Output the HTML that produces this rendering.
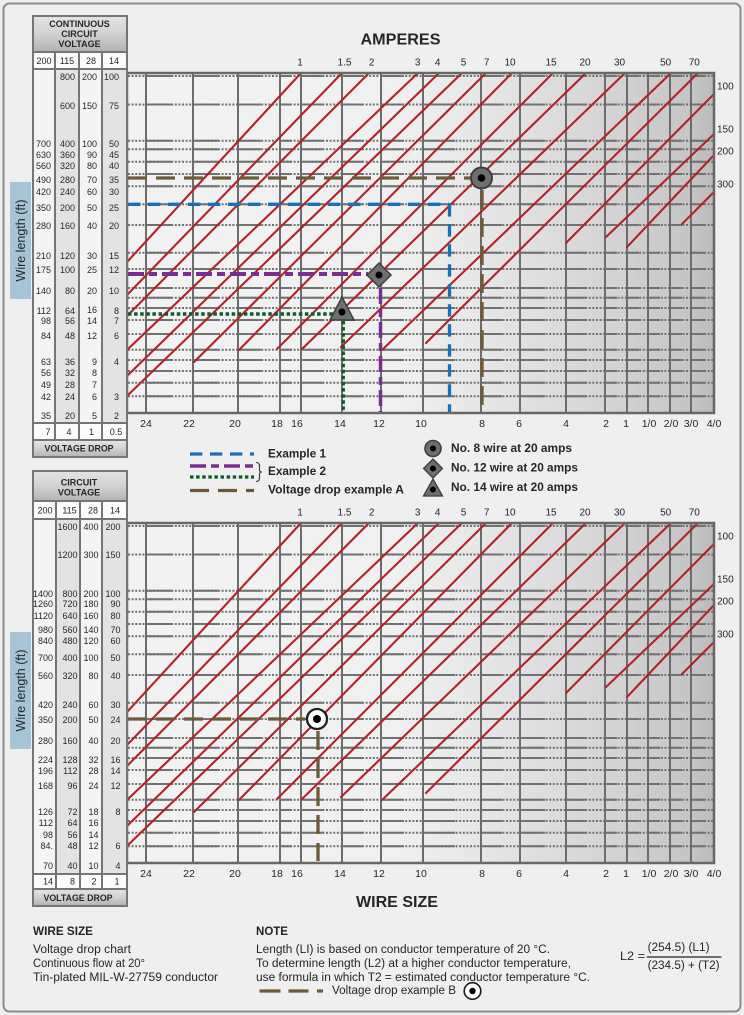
<!DOCTYPE html>
<html><head><meta charset="utf-8"><title>Voltage drop chart</title>
<style>
html,body{margin:0;padding:0;background:#f0eff0;width:744px;height:1015px;overflow:hidden}
svg{display:block}
text{font-family:"Liberation Sans",Arial,sans-serif;fill:#262626;dominant-baseline:central}
.t text{font-size:9px;text-anchor:end}
.c{text-anchor:middle}
.b{font-weight:bold}
.al text{font-size:10px;text-anchor:middle}
.wl text{font-size:10.5px;text-anchor:middle}
.rl text{font-size:10px;text-anchor:start}
</style></head><body>
<svg width="744" height="1015" viewBox="0 0 744 1015" xmlns="http://www.w3.org/2000/svg" xmlns:xlink="http://www.w3.org/1999/xlink">
<defs>
<linearGradient id="bgg" gradientUnits="userSpaceOnUse" x1="127" y1="0" x2="714" y2="0">
<stop offset="0" stop-color="#f2f2f2"/>
<stop offset="0.45" stop-color="#f0f0f0"/>
<stop offset="0.6" stop-color="#e7e7e7"/>
<stop offset="0.81" stop-color="#d5d5d5"/>
<stop offset="0.96" stop-color="#c5c5c5"/>
<stop offset="1" stop-color="#bbbbbb"/>
</linearGradient>
<linearGradient id="hdr" x1="0" y1="0" x2="0" y2="1">
<stop offset="0" stop-color="#e4e4e4"/>
<stop offset="0.45" stop-color="#d4d4d4"/>
<stop offset="1" stop-color="#b2b2b2"/>
</linearGradient>
<g id="hrow" stroke="#717171" stroke-width="2" fill="none">
<line x1="128" y1="0" x2="713" y2="0" stroke-dasharray="2,1.6"/>
<path d="M146 0H172M193 0H218M238 0H261M280 0H292M301 0H324M342 0H363M381 0H404M423 0H455M481 0H502M520 0H545M566 0H587M605 0H617M627 0H639M648 0H660M670 0H682M691 0H704"/>
</g>
<g id="chart">
<rect x="127" y="73" width="587" height="340" fill="url(#bgg)"/>
<use xlink:href="#hrow" href="#hrow" y="76"/>
<use xlink:href="#hrow" href="#hrow" y="104.5"/>
<use xlink:href="#hrow" href="#hrow" y="140.7"/>
<use xlink:href="#hrow" href="#hrow" y="149.3"/>
<use xlink:href="#hrow" href="#hrow" y="161.7"/>
<use xlink:href="#hrow" href="#hrow" y="174"/>
<use xlink:href="#hrow" href="#hrow" y="186.3"/>
<use xlink:href="#hrow" href="#hrow" y="204.2"/>
<use xlink:href="#hrow" href="#hrow" y="225"/>
<use xlink:href="#hrow" href="#hrow" y="252.7"/>
<use xlink:href="#hrow" href="#hrow" y="269"/>
<use xlink:href="#hrow" href="#hrow" y="288"/>
<use xlink:href="#hrow" href="#hrow" y="297.7"/>
<use xlink:href="#hrow" href="#hrow" y="308"/>
<use xlink:href="#hrow" href="#hrow" y="320"/>
<use xlink:href="#hrow" href="#hrow" y="334"/>
<use xlink:href="#hrow" href="#hrow" y="349.7"/>
<use xlink:href="#hrow" href="#hrow" y="360"/>
<use xlink:href="#hrow" href="#hrow" y="371"/>
<use xlink:href="#hrow" href="#hrow" y="382.7"/>
<use xlink:href="#hrow" href="#hrow" y="396.3"/>
<g stroke="#6c6c6c" stroke-width="2">
<line x1="146" y1="73" x2="146" y2="413"/>
<line x1="193" y1="73" x2="193" y2="413"/>
<line x1="238" y1="73" x2="238" y2="413"/>
<line x1="280" y1="73" x2="280" y2="413"/>
<line x1="301" y1="73" x2="301" y2="413"/>
<line x1="342" y1="73" x2="342" y2="413"/>
<line x1="381" y1="73" x2="381" y2="413"/>
<line x1="423" y1="73" x2="423" y2="413"/>
<line x1="481" y1="73" x2="481" y2="413"/>
<line x1="520" y1="73" x2="520" y2="413"/>
<line x1="566" y1="73" x2="566" y2="413"/>
<line x1="605" y1="73" x2="605" y2="413"/>
<line x1="627" y1="73" x2="627" y2="413"/>
<line x1="648" y1="73" x2="648" y2="413"/>
<line x1="670" y1="73" x2="670" y2="413"/>
<line x1="691" y1="73" x2="691" y2="413"/>
</g>
<g stroke="#b3212a" stroke-width="2.1" stroke-linecap="round">
<line x1="301" y1="73" x2="127" y2="262"/>
<line x1="342" y1="73" x2="127" y2="295"/>
<line x1="369" y1="73" x2="127" y2="316"/>
<line x1="418" y1="73" x2="127" y2="350"/>
<line x1="439" y1="73" x2="127" y2="376"/>
<line x1="462" y1="73" x2="127" y2="396"/>
<line x1="486" y1="73" x2="194" y2="362"/>
<line x1="512" y1="73" x2="239" y2="350"/>
<line x1="553" y1="73" x2="277" y2="349"/>
<line x1="586" y1="73" x2="302" y2="349"/>
<line x1="625" y1="73" x2="341" y2="347"/>
<line x1="671" y1="73" x2="382" y2="350"/>
<line x1="698" y1="73" x2="426" y2="343"/>
<line x1="714" y1="94" x2="566" y2="243"/>
<line x1="714" y1="134" x2="606" y2="237"/>
<line x1="714" y1="155" x2="627" y2="247"/>
<line x1="714" y1="192" x2="682" y2="224"/>
</g>
<rect x="127" y="73" width="587" height="340" fill="none" stroke="#686868" stroke-width="2.5"/>
<g class="al">
<text x="300" y="63">1</text>
<text x="344.5" y="63">1.5</text>
<text x="371.7" y="63">2</text>
<text x="417.7" y="63">3</text>
<text x="437.7" y="63">4</text>
<text x="463.5" y="63">5</text>
<text x="486.7" y="63">7</text>
<text x="510" y="63">10</text>
<text x="551" y="63">15</text>
<text x="585" y="63">20</text>
<text x="619.5" y="63">30</text>
<text x="665.7" y="63">50</text>
<text x="694.3" y="63">70</text>
</g>
<g class="wl">
<text x="146" y="424">24</text>
<text x="189" y="424">22</text>
<text x="235" y="424">20</text>
<text x="277" y="424">18</text>
<text x="297" y="424">16</text>
<text x="340" y="424">14</text>
<text x="379" y="424">12</text>
<text x="421" y="424">10</text>
<text x="482" y="424">8</text>
<text x="519" y="424">6</text>
<text x="566" y="424">4</text>
<text x="606" y="424">2</text>
<text x="626" y="424">1</text>
<text x="649" y="424">1/0</text>
<text x="671" y="424">2/0</text>
<text x="691" y="424">3/0</text>
<text x="714" y="424">4/0</text>
</g>
<g class="rl">
<text x="717" y="87">100</text>
<text x="717" y="130">150</text>
<text x="717" y="152">200</text>
<text x="717" y="185">300</text>
</g>
</g>
</defs>

<!-- page frame -->
<rect x="3.5" y="3.5" width="737" height="1008" rx="6" fill="#f0eff0" stroke="#8c8c8c" stroke-width="2"/>

<!-- titles -->
<text x="400.5" y="40" class="c b" font-size="16" textLength="80" lengthAdjust="spacingAndGlyphs">AMPERES</text>
<text x="397" y="902.5" class="c b" font-size="16" textLength="82" lengthAdjust="spacingAndGlyphs">WIRE SIZE</text>

<!-- charts -->
<use xlink:href="#chart" href="#chart"/>
<use xlink:href="#chart" href="#chart" transform="translate(0,450)"/>

<!-- ===== TOP TABLE ===== -->
<rect x="33" y="16" width="94" height="36" fill="url(#hdr)"/>
<rect x="33" y="52" width="94" height="17" fill="#fbfbfb"/>
<rect x="33" y="69" width="22" height="354" fill="#f4f4f4"/>
<rect x="55" y="69" width="24" height="354" fill="#e3e3e3"/>
<rect x="79" y="69" width="23" height="354" fill="#f4f4f4"/>
<rect x="102" y="69" width="25" height="354" fill="#e3e3e3"/>
<rect x="33" y="423" width="94" height="17" fill="#fbfbfb"/>
<rect x="33" y="440" width="94" height="17" fill="url(#hdr)"/>
<g stroke="#757575" stroke-width="2" fill="none">
<line x1="33" y1="52" x2="127" y2="52"/>
<line x1="33" y1="69" x2="127" y2="69"/>
<line x1="33" y1="423" x2="127" y2="423"/>
<line x1="33" y1="440" x2="127" y2="440"/>
<line x1="55" y1="52" x2="55" y2="440"/>
<line x1="79" y1="52" x2="79" y2="440"/>
<line x1="102" y1="52" x2="102" y2="440"/>
<rect x="33" y="16" width="94" height="441"/>
</g>
<g class="b c" font-size="9">
<text x="79.5" y="24">CONTINUOUS</text>
<text x="79.5" y="34">CIRCUIT</text>
<text x="79.5" y="44">VOLTAGE</text>
<text x="79" y="448.5" font-size="8.8">VOLTAGE DROP</text>
</g>
<g class="c" font-size="9">
<text x="44" y="61">200</text><text x="67" y="61">115</text><text x="91" y="61">28</text><text x="114" y="61">14</text>
<text x="48" y="432">7</text><text x="69" y="432">4</text><text x="91.5" y="432">1</text><text x="116" y="432">0.5</text>
</g>
<g class="t">
<text x="75" y="77">800</text><text x="97" y="77">200</text><text x="119" y="77">100</text>
<text x="75" y="106">600</text><text x="97" y="106">150</text><text x="119" y="106">75</text>
<text x="51" y="144">700</text><text x="75" y="144">400</text><text x="97" y="144">100</text><text x="119" y="144">50</text>
<text x="51" y="155">630</text><text x="75" y="155">360</text><text x="97" y="155">90</text><text x="119" y="155">45</text>
<text x="51" y="166">560</text><text x="75" y="166">320</text><text x="97" y="166">80</text><text x="119" y="166">40</text>
<text x="51" y="180">490</text><text x="75" y="180">280</text><text x="97" y="180">70</text><text x="119" y="180">35</text>
<text x="51" y="192">420</text><text x="75" y="192">240</text><text x="97" y="192">60</text><text x="119" y="192">30</text>
<text x="51" y="208">350</text><text x="75" y="208">200</text><text x="97" y="208">50</text><text x="119" y="208">25</text>
<text x="51" y="226">280</text><text x="75" y="226">160</text><text x="97" y="226">40</text><text x="119" y="226">20</text>
<text x="51" y="256">210</text><text x="75" y="256">120</text><text x="97" y="256">30</text><text x="119" y="256">15</text>
<text x="51" y="270">175</text><text x="75" y="270">100</text><text x="97" y="270">25</text><text x="119" y="270">12</text>
<text x="51" y="291">140</text><text x="75" y="291">80</text><text x="97" y="291">20</text><text x="119" y="291">10</text>
<text x="51" y="311">112</text><text x="75" y="311">64</text><text x="97" y="310">16</text><text x="119" y="311">8</text>
<text x="51" y="321">98</text><text x="75" y="321">56</text><text x="97" y="321">14</text><text x="119" y="321">7</text>
<text x="51" y="336">84</text><text x="75" y="336">48</text><text x="97" y="336">12</text><text x="119" y="336">6</text>
<text x="51" y="362">63</text><text x="75" y="362">36</text><text x="97" y="362">9</text><text x="119" y="362">4</text>
<text x="51" y="373">56</text><text x="75" y="373">32</text><text x="97" y="373">8</text>
<text x="51" y="385">49</text><text x="75" y="385">28</text><text x="97" y="385">7</text>
<text x="51" y="397">42</text><text x="75" y="397">24</text><text x="97" y="397">6</text><text x="119" y="397">3</text>
<text x="51" y="416">35</text><text x="75" y="416">20</text><text x="97" y="416">5</text><text x="119" y="416">2</text>
</g>
<rect x="10" y="182" width="21" height="117" fill="#a5c4d6"/>
<text transform="translate(21,240.5) rotate(-90)" class="c" font-size="12.5" fill="#2b2b2b">Wire length (ft)</text>

<!-- ===== BOTTOM TABLE ===== -->
<rect x="33" y="471" width="94" height="30" fill="url(#hdr)"/>
<rect x="33" y="501" width="94" height="18" fill="#fbfbfb"/>
<rect x="33" y="519" width="22" height="355" fill="#f4f4f4"/>
<rect x="55" y="519" width="24" height="355" fill="#e3e3e3"/>
<rect x="79" y="519" width="23" height="355" fill="#f4f4f4"/>
<rect x="102" y="519" width="25" height="355" fill="#e3e3e3"/>
<rect x="33" y="874" width="94" height="15" fill="#fbfbfb"/>
<rect x="33" y="889" width="94" height="17" fill="url(#hdr)"/>
<g stroke="#757575" stroke-width="2" fill="none">
<line x1="33" y1="501" x2="127" y2="501"/>
<line x1="33" y1="519" x2="127" y2="519"/>
<line x1="33" y1="874" x2="127" y2="874"/>
<line x1="33" y1="889" x2="127" y2="889"/>
<line x1="56" y1="501" x2="56" y2="889"/>
<line x1="80" y1="501" x2="80" y2="889"/>
<line x1="102" y1="501" x2="102" y2="889"/>
<rect x="33" y="471" width="94" height="435"/>
</g>
<g class="b c" font-size="9">
<text x="79" y="482.7">CIRCUIT</text>
<text x="79" y="492.5">VOLTAGE</text>
<text x="78" y="898" font-size="8.8">VOLTAGE DROP</text>
</g>
<g class="c" font-size="9">
<text x="45" y="510.5">200</text><text x="69.5" y="510.5">115</text><text x="93" y="510.5">28</text><text x="115" y="510.5">14</text>
<text x="48" y="881.5">14</text><text x="72.5" y="881.5">8</text><text x="94" y="881.5">2</text><text x="117" y="881.5">1</text>
</g>
<g class="t">
<text x="77.5" y="527">1600</text><text x="98.5" y="527">400</text><text x="120.5" y="527">200</text>
<text x="77.5" y="555">1200</text><text x="98.5" y="555">300</text><text x="120.5" y="555">150</text>
<text x="53" y="594">1400</text><text x="77.5" y="594">800</text><text x="98.5" y="594">200</text><text x="120.5" y="594">100</text>
<text x="53" y="604">1260</text><text x="77.5" y="604">720</text><text x="98.5" y="604">180</text><text x="120.5" y="604">90</text>
<text x="53" y="616">1120</text><text x="77.5" y="616">640</text><text x="98.5" y="616">160</text><text x="120.5" y="616">80</text>
<text x="53" y="630">980</text><text x="77.5" y="630">560</text><text x="98.5" y="630">140</text><text x="120.5" y="630">70</text>
<text x="53" y="641">840</text><text x="77.5" y="641">480</text><text x="98.5" y="641">120</text><text x="120.5" y="641">60</text>
<text x="53" y="658">700</text><text x="77.5" y="658">400</text><text x="98.5" y="658">100</text><text x="120.5" y="658">50</text>
<text x="53" y="676">560</text><text x="77.5" y="676">320</text><text x="98.5" y="676">80</text><text x="120.5" y="676">40</text>
<text x="53" y="705">420</text><text x="77.5" y="705">240</text><text x="98.5" y="705">60</text><text x="120.5" y="705">30</text>
<text x="53" y="720">350</text><text x="77.5" y="720">200</text><text x="98.5" y="720">50</text><text x="120.5" y="720">24</text>
<text x="53" y="741">280</text><text x="77.5" y="741">160</text><text x="98.5" y="741">40</text><text x="120.5" y="741">20</text>
<text x="53" y="760">224</text><text x="77.5" y="760">128</text><text x="98.5" y="760">32</text><text x="120.5" y="760">16</text>
<text x="53" y="771">196</text><text x="77.5" y="771">112</text><text x="98.5" y="771">28</text><text x="120.5" y="771">14</text>
<text x="53" y="786">168</text><text x="77.5" y="786">96</text><text x="98.5" y="786">24</text><text x="120.5" y="786">12</text>
<text x="53" y="812">126</text><text x="77.5" y="812">72</text><text x="98.5" y="812">18</text><text x="120.5" y="812">8</text>
<text x="53" y="823">112</text><text x="77.5" y="823">64</text><text x="98.5" y="823">16</text>
<text x="53" y="835">98</text><text x="77.5" y="835">56</text><text x="98.5" y="835">14</text>
<text x="53" y="846">84.</text><text x="77.5" y="846">48</text><text x="98.5" y="846">12</text><text x="120.5" y="846">6</text>
<text x="53" y="866">70</text><text x="77.5" y="866">40</text><text x="98.5" y="866">10</text><text x="120.5" y="866">4</text>
</g>
<rect x="10" y="632" width="21" height="117" fill="#a5c4d6"/>
<text transform="translate(21,690.5) rotate(-90)" class="c" font-size="12.5" fill="#2b2b2b">Wire length (ft)</text>

<!-- ===== TOP CHART EXAMPLES ===== -->
<g fill="none">
<line x1="128" y1="178" x2="470" y2="178" stroke="#6e5a39" stroke-width="3.3" stroke-dasharray="19,9"/>
<line x1="482" y1="190" x2="482" y2="412" stroke="#6e5a39" stroke-width="3.3" stroke-dasharray="19,9"/>
<line x1="128" y1="204.3" x2="449" y2="204.3" stroke="#1a70b8" stroke-width="3.3" stroke-dasharray="12.3,7.7"/>
<line x1="449.5" y1="204.3" x2="449.5" y2="412" stroke="#1a70b8" stroke-width="3.3" stroke-dasharray="12.3,7.7"/>
<line x1="128" y1="274" x2="368" y2="274" stroke="#7c2d91" stroke-width="4" stroke-dasharray="16,5,8,5"/>
<line x1="380.5" y1="288" x2="380.5" y2="412" stroke="#7c2d91" stroke-width="3.5" stroke-dasharray="16,5,8,5"/>
<line x1="128" y1="314" x2="333" y2="314" stroke="#0c5b2c" stroke-width="3.5" stroke-dasharray="3.5,2.6"/>
<line x1="343.3" y1="321" x2="343.3" y2="412" stroke="#0c5b2c" stroke-width="3.3" stroke-dasharray="3.5,2.6"/>
</g>
<circle cx="481.5" cy="178" r="10.5" fill="#6f6f6f" stroke="#3e3e3e" stroke-width="2"/>
<circle cx="481.5" cy="178" r="3.8" fill="#000"/>
<path d="M379 263 L391 275 L379 287 L367 275Z" fill="#6f6f6f" stroke="#3e3e3e" stroke-width="1.5"/>
<circle cx="379" cy="275" r="3.5" fill="#000"/>
<path d="M342 297 L354 320 L330 320Z" fill="#6f6f6f" stroke="#3e3e3e" stroke-width="1.5"/>
<circle cx="342" cy="312" r="3.5" fill="#000"/>

<!-- ===== BOTTOM CHART EXAMPLE ===== -->
<line x1="128" y1="719" x2="305" y2="719" stroke="#6e5a39" stroke-width="3.3" stroke-dasharray="19,9"/>
<line x1="318" y1="731" x2="318" y2="861" stroke="#6e5a39" stroke-width="3.3" stroke-dasharray="19,9"/>
<circle cx="317" cy="719" r="10" fill="#fff" stroke="#1e1e1e" stroke-width="2.3"/>
<circle cx="317" cy="719" r="4" fill="#000"/>

<!-- ===== LEGEND ===== -->
<g fill="none">
<line x1="190" y1="454" x2="254" y2="454" stroke="#1a70b8" stroke-width="3.3" stroke-dasharray="12.3,7.7"/>
<line x1="190" y1="466" x2="254" y2="466" stroke="#7c2d91" stroke-width="3.5" stroke-dasharray="16,5,8,5"/>
<line x1="190" y1="477" x2="254" y2="477" stroke="#0c5b2c" stroke-width="3.3" stroke-dasharray="3.5,2.6"/>
<line x1="190" y1="490.5" x2="254" y2="490.5" stroke="#6e5a39" stroke-width="3.3" stroke-dasharray="19,9"/>
<path d="M256 462.5 q3.5 0 3.5 3.5 v4 q0 2 2.5 2 q-2.5 0 -2.5 2 v4 q0 3.5 -3.5 3.5" stroke="#333" stroke-width="1.1"/>
</g>
<g class="b" font-size="11.5">
<text x="268" y="454.5" textLength="58" lengthAdjust="spacingAndGlyphs">Example 1</text>
<text x="268" y="472" textLength="58" lengthAdjust="spacingAndGlyphs">Example 2</text>
<text x="268" y="490.5" textLength="136" lengthAdjust="spacingAndGlyphs">Voltage drop example A</text>
<text x="451" y="449" textLength="121" lengthAdjust="spacingAndGlyphs">No. 8 wire at 20 amps</text>
<text x="451" y="468.5" textLength="127" lengthAdjust="spacingAndGlyphs">No. 12 wire at 20 amps</text>
<text x="451" y="488" textLength="127" lengthAdjust="spacingAndGlyphs">No. 14 wire at 20 amps</text>
</g>
<circle cx="433" cy="448.5" r="8" fill="#6f6f6f" stroke="#3e3e3e" stroke-width="1.6"/>
<circle cx="433" cy="448.5" r="3" fill="#000"/>
<path d="M433 459 L442.5 468.5 L433 478 L423.5 468.5Z" fill="#6f6f6f" stroke="#3e3e3e" stroke-width="1.3"/>
<circle cx="433" cy="468.5" r="3" fill="#000"/>
<path d="M433 479 L442.5 496 L423.5 496Z" fill="#6f6f6f" stroke="#3e3e3e" stroke-width="1.3"/>
<circle cx="433" cy="489.5" r="3" fill="#000"/>

<!-- ===== BOTTOM TEXT ===== -->
<g font-size="11.5">
<text x="33" y="932" class="b" textLength="60" lengthAdjust="spacingAndGlyphs">WIRE SIZE</text>
<text x="33" y="950" textLength="98" lengthAdjust="spacingAndGlyphs">Voltage drop chart</text>
<text x="33" y="964" textLength="112" lengthAdjust="spacingAndGlyphs">Continuous flow at 20°</text>
<text x="33" y="978" textLength="185" lengthAdjust="spacingAndGlyphs">Tin-plated MIL-W-27759 conductor</text>
<text x="256" y="932" class="b" textLength="32" lengthAdjust="spacingAndGlyphs">NOTE</text>
<text x="256" y="950" textLength="294" lengthAdjust="spacingAndGlyphs">Length (LI) is based on conductor temperature of 20 °C.</text>
<text x="256" y="964" textLength="315" lengthAdjust="spacingAndGlyphs">To determine length (L2) at a higher conductor temperature,</text>
<text x="256" y="978" textLength="334" lengthAdjust="spacingAndGlyphs">use formula in which T2 = estimated conductor temperature °C.</text>
<text x="332" y="991" textLength="124" lengthAdjust="spacingAndGlyphs">Voltage drop example B</text>
<text x="620" y="957" textLength="25" lengthAdjust="spacingAndGlyphs">L2 =</text>
<text x="647.6" y="948" textLength="62" lengthAdjust="spacingAndGlyphs">(254.5) (L1)</text>
<text x="647.6" y="966" textLength="72" lengthAdjust="spacingAndGlyphs">(234.5) + (T2)</text>
</g>
<line x1="646.7" y1="957" x2="721.4" y2="957" stroke="#222" stroke-width="1.2"/>
<line x1="259.5" y1="991" x2="325" y2="991" stroke="#6e5a39" stroke-width="3.3" stroke-dasharray="21,8,20,8.5,6,200"/>
<circle cx="472.5" cy="991" r="8.3" fill="#fff" stroke="#1e1e1e" stroke-width="1.6"/>
<circle cx="472.5" cy="991" r="3.2" fill="#000"/>
</svg>
</body></html>
